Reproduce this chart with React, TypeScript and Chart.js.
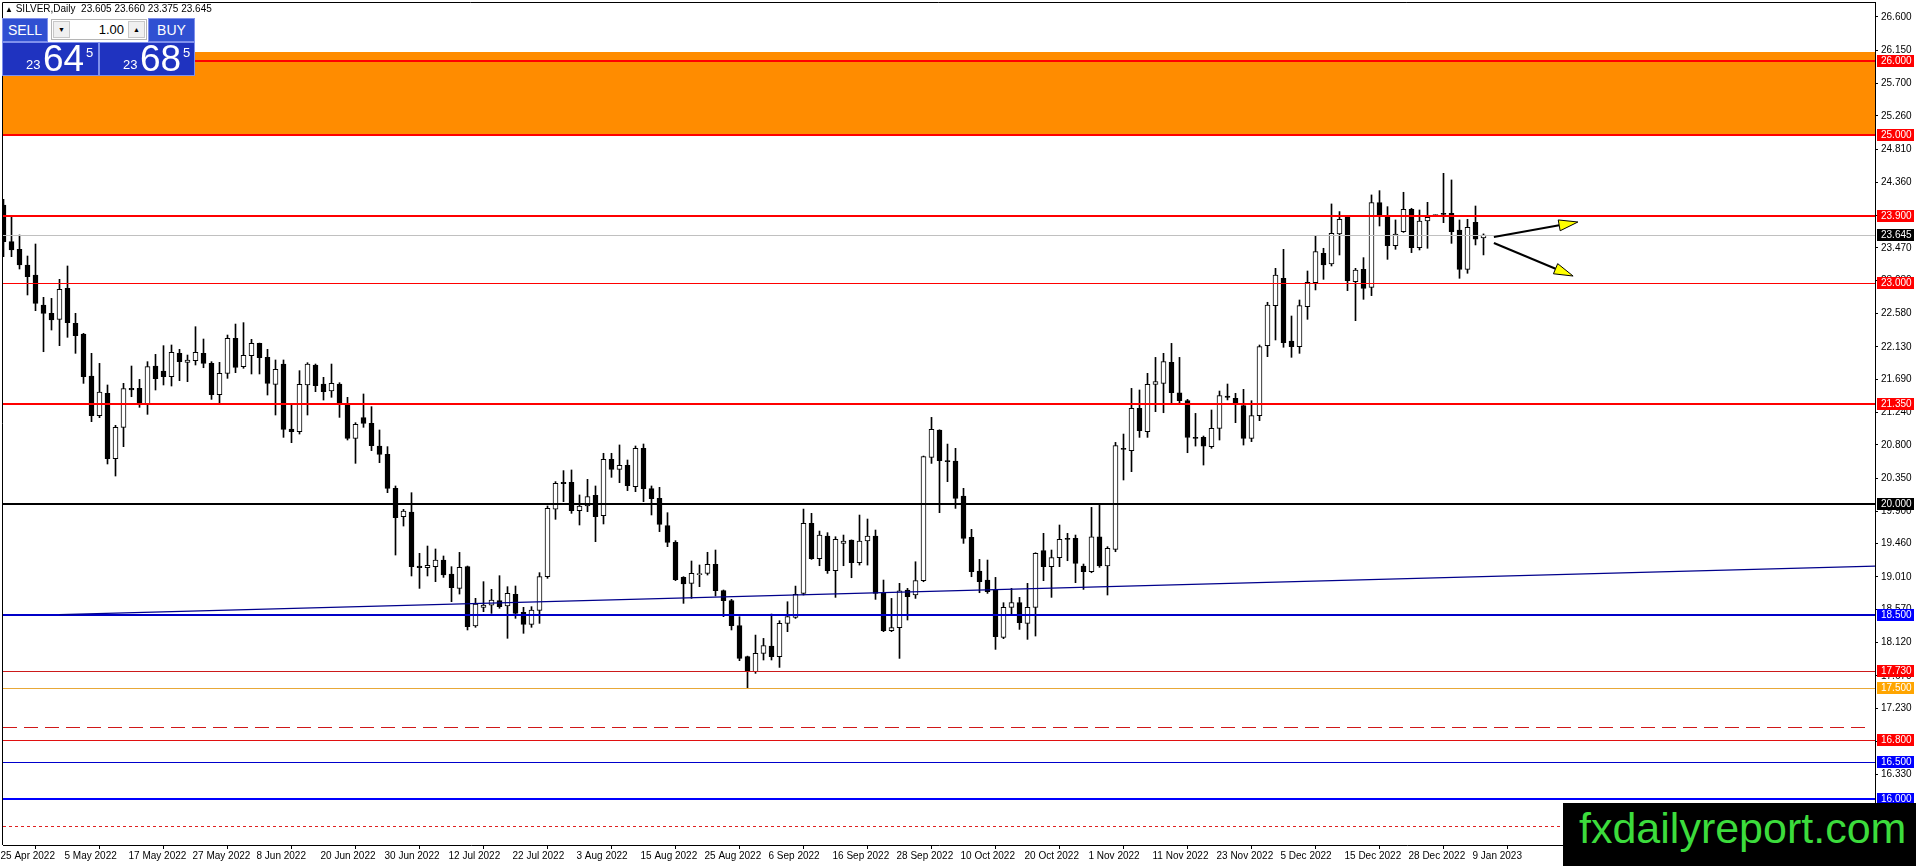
import React, { useEffect, useRef } from "react";
import { Chart, registerables } from "chart.js";

Chart.register(...registerables);

// ---------------- DATA ----------------
const dateLabels = [
  "25 Apr 2022", "5 May 2022", "17 May 2022", "27 May 2022", "8 Jun 2022", "20 Jun 2022",
  "30 Jun 2022", "12 Jul 2022", "22 Jul 2022", "3 Aug 2022", "15 Aug 2022", "25 Aug 2022",
  "6 Sep 2022", "16 Sep 2022", "28 Sep 2022", "10 Oct 2022", "20 Oct 2022", "1 Nov 2022",
  "11 Nov 2022", "23 Nov 2022", "5 Dec 2022", "15 Dec 2022", "28 Dec 2022", "9 Jan 2023",
];
const barsPerDateLabel = 8;

const opens = [
  24.052, 23.555, 23.451, 23.238, 23.103, 22.696, 22.583, 22.502, 22.922, 22.448,
  22.303, 21.734, 21.196, 21.499, 20.613, 21.038, 21.566, 21.566, 21.354, 21.869,
  21.801, 21.725, 22.041, 21.919, 21.941, 22.041, 21.905, 21.480, 21.770, 22.244,
  21.860, 22.009, 22.177, 21.987, 21.621, 21.896, 21.015, 20.979, 21.612, 21.883,
  21.625, 21.530, 21.625, 21.354, 20.889, 21.169, 21.092, 20.785, 20.672, 20.211,
  19.827, 19.890, 19.158, 19.135, 19.149, 19.239, 19.050, 18.855, 19.149, 18.345,
  18.598, 18.629, 18.688, 18.616, 18.774, 18.530, 18.368, 18.557, 19.014, 19.927,
  20.293, 20.293, 19.909, 19.972, 20.116, 19.841, 20.604, 20.469, 20.523, 20.234,
  20.753, 20.207, 20.076, 19.705, 19.479, 19.005, 18.923, 19.041, 19.059, 19.181,
  18.824, 18.688, 18.349, 17.929, 17.725, 17.974, 18.073, 17.929, 18.380, 18.462,
  18.787, 19.736, 19.257, 19.564, 19.094, 19.465, 19.510, 19.203, 19.497, 19.564,
  18.787, 18.281, 18.322, 18.832, 18.765, 18.959, 20.631, 21.001, 20.581, 20.581,
  20.107, 19.546, 19.090, 18.968, 18.832, 18.191, 18.597, 18.661, 18.380, 18.597,
  19.366, 19.149, 19.271, 19.533, 19.533, 19.158, 19.081, 19.555, 19.158, 19.384,
  20.753, 20.721, 21.295, 20.979, 21.620, 21.634, 21.919, 21.507, 21.399, 20.902,
  20.902, 20.775, 21.024, 21.463, 21.431, 21.332, 20.889, 21.196, 22.145, 22.687,
  23.058, 22.208, 22.131, 22.674, 23.000, 23.397, 23.252, 23.659, 23.885, 23.013,
  23.180, 22.936, 24.084, 23.907, 23.501, 23.690, 23.993, 23.474, 23.835, 23.907,
  23.939, 23.939, 23.713, 23.180, 23.817, 23.605,
];
const highs = [
  24.128, 23.885, 23.645, 23.360, 23.523, 22.800, 22.786, 23.044, 23.225, 22.583,
  22.312, 22.041, 21.905, 21.612, 21.065, 21.634, 21.869, 21.688, 21.928, 22.027,
  22.145, 22.154, 22.095, 22.018, 22.402, 22.235, 21.928, 21.919, 22.289, 22.438,
  22.457, 22.231, 22.180, 22.095, 21.951, 21.951, 21.341, 21.806, 21.914, 21.896,
  21.716, 21.896, 21.643, 21.445, 21.101, 21.490, 21.318, 21.002, 20.776, 20.243,
  19.926, 20.152, 19.330, 19.429, 19.389, 19.294, 19.149, 19.343, 19.158, 18.720,
  18.946, 18.842, 19.027, 18.878, 18.887, 18.598, 18.607, 19.068, 19.972, 20.302,
  20.451, 20.460, 20.121, 20.333, 20.243, 20.686, 20.686, 20.799, 20.595, 20.785,
  20.812, 20.243, 20.225, 19.881, 19.502, 19.014, 19.226, 19.172, 19.344, 19.375,
  18.833, 18.706, 18.471, 17.937, 18.222, 18.177, 18.507, 18.417, 18.674, 18.886,
  19.930, 19.872, 19.632, 19.610, 19.555, 19.578, 19.512, 19.849, 19.795, 19.646,
  18.968, 18.719, 18.923, 18.855, 19.216, 20.649, 21.173, 21.005, 20.811, 20.753,
  20.211, 19.655, 19.248, 19.239, 19.004, 18.661, 18.855, 18.733, 18.923, 19.338,
  19.601, 19.375, 19.714, 19.601, 19.578, 19.185, 19.953, 20.007, 19.420, 20.834,
  20.947, 21.566, 21.544, 21.770, 21.986, 22.041, 22.176, 21.986, 21.417, 21.227,
  20.920, 21.273, 21.530, 21.625, 21.499, 21.553, 21.399, 22.154, 22.733, 23.193,
  23.451, 22.547, 22.764, 23.157, 23.632, 23.465, 24.066, 23.962, 23.903, 23.193,
  23.338, 24.188, 24.246, 24.029, 23.849, 24.224, 24.007, 23.984, 24.088, 23.921,
  24.481, 24.391, 23.849, 23.858, 24.038, 23.660,
];
const lows = [
  23.351, 23.351, 23.184, 22.832, 22.619, 22.063, 22.357, 22.145, 22.258, 22.041,
  21.634, 21.115, 21.169, 20.541, 20.378, 20.776, 21.453, 21.309, 21.214, 21.544,
  21.612, 21.598, 21.670, 21.657, 21.883, 21.846, 21.417, 21.372, 21.702, 21.779,
  21.838, 21.761, 21.761, 21.476, 21.205, 20.902, 20.830, 20.947, 21.205, 21.521,
  21.408, 21.445, 21.173, 20.866, 20.550, 21.038, 20.722, 20.559, 20.152, 19.307,
  19.700, 19.023, 18.855, 19.023, 18.946, 19.004, 18.675, 18.778, 18.291, 18.327,
  18.539, 18.516, 18.585, 18.178, 18.449, 18.246, 18.327, 18.381, 18.991, 19.791,
  20.030, 19.872, 19.714, 19.895, 19.488, 19.728, 20.360, 20.288, 20.180, 20.166,
  20.030, 19.850, 19.624, 19.420, 18.960, 18.652, 18.720, 18.878, 19.036, 18.752,
  18.471, 18.291, 17.875, 17.499, 17.703, 17.884, 17.884, 17.784, 18.268, 18.448,
  18.765, 19.248, 19.162, 19.058, 18.733, 19.162, 18.999, 19.171, 19.171, 18.706,
  18.268, 18.268, 17.906, 18.426, 18.719, 18.945, 20.549, 19.881, 20.301, 19.939,
  19.465, 19.013, 18.796, 18.787, 18.028, 18.173, 18.493, 18.299, 18.164, 18.209,
  18.959, 18.733, 19.149, 19.230, 18.932, 18.841, 19.067, 19.140, 18.765, 19.352,
  20.324, 20.437, 20.902, 20.902, 21.250, 21.236, 21.354, 21.363, 20.694, 20.784,
  20.527, 20.753, 20.866, 21.409, 21.101, 20.798, 20.844, 21.128, 21.996, 22.222,
  22.123, 21.987, 22.041, 22.502, 22.900, 23.044, 23.225, 23.374, 22.891, 22.484,
  22.773, 22.823, 23.767, 23.315, 23.451, 23.680, 23.406, 23.442, 23.465, 23.903,
  23.812, 23.532, 23.058, 23.126, 23.510, 23.375,
];
const closes = [
  23.555, 23.442, 23.238, 23.080, 22.719, 22.583, 22.493, 22.908, 22.457, 22.280,
  21.725, 21.196, 21.517, 20.613, 21.038, 21.562, 21.544, 21.354, 21.860, 21.697,
  21.725, 22.054, 21.928, 21.950, 22.054, 21.905, 21.480, 21.770, 22.244, 21.851,
  22.014, 22.177, 21.982, 21.634, 21.824, 21.011, 20.979, 21.621, 21.896, 21.603,
  21.521, 21.634, 21.354, 20.889, 21.078, 21.092, 20.789, 20.672, 20.211, 19.813,
  19.904, 19.149, 19.135, 19.167, 19.239, 19.036, 18.864, 19.140, 18.336, 18.643,
  18.629, 18.697, 18.607, 18.788, 18.517, 18.368, 18.562, 19.014, 19.940, 20.279,
  20.275, 19.909, 19.972, 20.098, 19.827, 20.604, 20.469, 20.523, 20.247, 20.753,
  20.207, 20.071, 19.723, 19.479, 18.973, 18.914, 19.059, 19.050, 19.181, 18.824,
  18.688, 18.350, 17.906, 17.739, 17.974, 18.078, 17.929, 18.380, 18.471, 18.774,
  19.736, 19.257, 19.578, 19.094, 19.519, 19.497, 19.203, 19.497, 19.564, 18.787,
  18.281, 18.322, 18.823, 18.742, 18.959, 20.640, 21.010, 20.586, 20.572, 20.075,
  19.533, 19.081, 18.945, 18.810, 18.200, 18.597, 18.661, 18.389, 18.597, 19.329,
  19.149, 19.271, 19.519, 19.519, 19.194, 19.081, 19.555, 19.158, 19.397, 20.789,
  20.739, 21.295, 20.992, 21.620, 21.657, 21.928, 21.507, 21.399, 20.902, 20.888,
  20.784, 21.024, 21.467, 21.445, 21.350, 20.889, 21.196, 22.131, 22.696, 23.103,
  22.186, 22.131, 22.687, 23.004, 23.419, 23.239, 23.668, 23.858, 23.026, 23.171,
  22.922, 24.084, 23.903, 23.501, 23.659, 23.993, 23.474, 23.835, 23.885, 23.912,
  23.925, 23.690, 23.180, 23.749, 23.587, 23.645,
];

const priceTicks = [
  26.6, 26.15, 25.7, 25.26, 24.81, 24.36, 23.91, 23.47, 23.03, 22.58, 22.13, 21.69, 21.24,
  20.8, 20.35, 19.9, 19.46, 19.01, 18.57, 18.12, 17.67, 17.23, 16.78, 16.33, 15.89,
];
const levelPrices = [26.0, 25.0, 23.9, 23.0, 21.35, 20.0, 18.5, 17.73, 17.5, 16.8, 16.5, 16.0];
const zoneRange = [25.0, 26.125];
const bidPrice = 23.645;
const dashedLevel = 16.98;
const dottedLevel = 15.64;
const trendPoints = [
  [7, 18.5],
  [234, 19.158],
];
const arrowStarts = [
  [186.3, 23.618],
  [186.3, 23.536],
];
const arrowEnds = [
  [196.8, 23.821],
  [196.2, 23.089],
];

const symbolTitle = "SILVER,Daily";
const ohlcText = "23.605 23.660 23.375 23.645";
const lotText = "1.00";
const sellParts = ["23", "64", "5"];
const buyParts = ["23", "68", "5"];

// ---------------- STYLES ----------------
const FONT = '"Liberation Sans", Arial, sans-serif';
const NARROW = '"Liberation Sans Narrow", "Liberation Sans", Arial, sans-serif';
const levelStyles = [
  { line: "#ff0000", w: 2, box: "#ff0000" },
  { line: "#ff0000", w: 2, box: "#ff0000" },
  { line: "#ff0000", w: 2, box: "#ff0000" },
  { line: "#ff0000", w: 1, box: "#ff0000" },
  { line: "#ff0000", w: 2, box: "#ff0000" },
  { line: "#000000", w: 2, box: "#000000" },
  { line: "#0000c8", w: 2, box: "#0000ff" },
  { line: "#cc1a1a", w: 1, box: "#ff0000" },
  { line: "#e8a838", w: 1, box: "#ffa500" },
  { line: "#e01010", w: 1, box: "#ff0000" },
  { line: "#0000cc", w: 1, box: "#0000ff" },
  { line: "#0000ff", w: 2, box: "#0000ff" },
];

function hline(ctx: any, a: any, py: number, color: string, width: number, dash: number[] = [], xEnd?: number) {
  const yy = width % 2 === 1 ? Math.round(py) + 0.5 : Math.round(py);
  ctx.save();
  ctx.strokeStyle = color;
  ctx.lineWidth = width;
  ctx.setLineDash(dash);
  ctx.beginPath();
  ctx.moveTo(a.left, yy);
  ctx.lineTo(xEnd ?? a.right, yy);
  ctx.stroke();
  ctx.restore();
}

const overlayPlugin = {
  id: "mtOverlay",
  beforeDatasetsDraw(chart: any) {
    const { ctx, chartArea: a, scales } = chart;
    const y = scales.y;
    ctx.save();
    const y1 = y.getPixelForValue(zoneRange[1]);
    const y0 = y.getPixelForValue(zoneRange[0]);
    ctx.fillStyle = "#ff8c00";
    ctx.fillRect(a.left, Math.round(y1), a.right - a.left, Math.round(y0) - Math.round(y1));
    ctx.restore();
  },
  afterDatasetsDraw(chart: any) {
    const { ctx, chartArea: a, scales } = chart;
    const x = scales.x;
    const y = scales.y;
    ctx.save();
    ctx.beginPath();
    ctx.rect(a.left, a.top, a.right - a.left, a.bottom - a.top);
    ctx.clip();

    hline(ctx, a, y.getPixelForValue(bidPrice), "#c0c0c0", 1);
    levelPrices.forEach((p, i) => {
      const s = levelStyles[i];
      hline(ctx, a, y.getPixelForValue(p), s.line, s.w);
    });
    hline(ctx, a, y.getPixelForValue(dashedLevel), "#d01818", 1, [14, 7], a.right - 6);
    hline(ctx, a, y.getPixelForValue(dottedLevel), "#e02020", 1, [3, 3]);

    ctx.strokeStyle = "#00008c";
    ctx.lineWidth = 1.2;
    ctx.beginPath();
    ctx.moveTo(x.getPixelForValue(trendPoints[0][0]), y.getPixelForValue(trendPoints[0][1]));
    ctx.lineTo(x.getPixelForValue(trendPoints[1][0]), y.getPixelForValue(trendPoints[1][1]));
    ctx.stroke();

    arrowStarts.forEach((st, i) => {
      const en = arrowEnds[i];
      const sx = x.getPixelForValue(st[0]);
      const sy = y.getPixelForValue(st[1]);
      const ex = x.getPixelForValue(en[0]);
      const ey = y.getPixelForValue(en[1]);
      const ang = Math.atan2(ey - sy, ex - sx);
      const len = 19;
      const hw = 5.5;
      const bx = ex - Math.cos(ang) * len;
      const by = ey - Math.sin(ang) * len;
      ctx.strokeStyle = "#000";
      ctx.lineWidth = 2;
      ctx.beginPath();
      ctx.moveTo(sx, sy);
      ctx.lineTo(bx, by);
      ctx.stroke();
      ctx.beginPath();
      ctx.moveTo(ex, ey);
      ctx.lineTo(bx + Math.sin(ang) * hw, by - Math.cos(ang) * hw);
      ctx.lineTo(bx - Math.sin(ang) * hw, by + Math.cos(ang) * hw);
      ctx.closePath();
      ctx.fillStyle = "#ffff00";
      ctx.fill();
      ctx.lineWidth = 1;
      ctx.stroke();
    });
    ctx.restore();

    ctx.save();
    ctx.strokeStyle = "#000";
    ctx.lineWidth = 1;
    ctx.beginPath();
    ctx.moveTo(a.left - 0.5, a.bottom);
    ctx.lineTo(a.left - 0.5, a.top + 0.5);
    ctx.lineTo(a.right, a.top + 0.5);
    ctx.stroke();
    ctx.restore();
  },
  afterDraw(chart: any) {
    const { ctx, chartArea: a, scales } = chart;
    const y = scales.y;
    const boxes: { p: number; c: string }[] = [];
    levelPrices.forEach((p, i) => boxes.push({ p, c: levelStyles[i].box }));
    boxes.push({ p: bidPrice, c: "#000000" });
    ctx.save();
    ctx.font = `10px ${FONT}`;
    ctx.textBaseline = "middle";
    ctx.textAlign = "left";
    boxes.forEach((b) => {
      const py = Math.round(y.getPixelForValue(b.p));
      ctx.fillStyle = b.c;
      ctx.fillRect(a.right + 2, py - 6, 37, 12);
      ctx.fillStyle = "#ffffff";
      ctx.fillText(b.p.toFixed(3), a.right + 6, py + 0.5);
    });
    ctx.restore();
  },
};

const W = 1916;
const H = 866;

function noPad(s: any) {
  s.paddingTop = 0;
  s.paddingBottom = 0;
  s.paddingLeft = 0;
  s.paddingRight = 0;
}

export default function App() {
  const ref = useRef<HTMLCanvasElement | null>(null);

  useEffect(() => {
    document.body.style.margin = "0";
    const canvas = ref.current;
    if (!canvas) return;
    const idx = opens.map((_, i) => i);
    const wickData = idx.map((i) => ({ x: i, y: [lows[i], highs[i]] }));
    const bodyData = idx.map((i) => ({ x: i, y: [opens[i], closes[i]] }));
    const bodyColors = idx.map((i) => (closes[i] >= opens[i] ? "#ffffff" : "#000000"));

    const chart = new Chart(canvas, {
      type: "bar",
      data: {
        datasets: [
          {
            data: wickData as any,
            backgroundColor: "#000000",
            borderWidth: 0,
            barThickness: 1,
            grouped: false,
            order: 2,
          } as any,
          {
            data: bodyData as any,
            backgroundColor: bodyColors,
            borderColor: "#000000",
            borderWidth: 1,
            borderSkipped: false,
            barThickness: 5,
            minBarLength: 1,
            grouped: false,
            order: 1,
          } as any,
        ],
      },
      options: {
        animation: false,
        responsive: false,
        events: [],
        layout: { padding: { left: 3, top: 2, right: 0, bottom: 0 } },
        plugins: { legend: { display: false }, tooltip: { enabled: false } },
        scales: {
          x: {
            type: "linear",
            min: -0.0625,
            max: 233.9375,
            offset: false,
            afterBuildTicks: (s: any) => {
              s.ticks = dateLabels.map((_, k) => ({ value: k * barsPerDateLabel }));
            },
            afterFit: (s: any) => {
              s.height = 21;
              noPad(s);
            },
            ticks: {
              autoSkip: false,
              maxRotation: 0,
              minRotation: 0,
              align: "start",
              padding: 1,
              labelOffset: -3,
              color: "#000000",
              font: { family: FONT, size: 10 },
              callback: (_v: any, i: number) => dateLabels[i] ?? "",
            },
            grid: { drawOnChartArea: false, drawTicks: true, tickLength: 4, color: "#000000" },
            border: { display: true, color: "#000000", width: 1 },
          },
          y: {
            type: "linear",
            position: "right",
            min: 15.3764,
            max: 26.8033,
            afterBuildTicks: (s: any) => {
              s.ticks = priceTicks.map((v) => ({ value: v }));
            },
            afterFit: (s: any) => {
              s.width = 41;
              noPad(s);
            },
            ticks: {
              autoSkip: false,
              padding: 3,
              color: "#000000",
              font: { family: FONT, size: 10 },
              callback: (v: any) => Number(v).toFixed(3),
            },
            grid: { drawOnChartArea: false, drawTicks: true, tickLength: 3, color: "#000000" },
            border: { display: true, color: "#000000", width: 1 },
          },
        },
      } as any,
      plugins: [overlayPlugin],
    });
    return () => chart.destroy();
  }, []);

  const blueTop = "#3050d2";
  const blueBig = "#1f33c0";

  const bigBox = (left: number, width: number, parts: string[]) => (
    <div
      style={{
        position: "absolute",
        left,
        top: 42,
        width,
        height: 34,
        background: blueBig,
        boxSizing: "border-box",
        border: "1px solid #7f90ec",
        color: "#fff",
        fontFamily: FONT,
      }}
    >
      <span style={{ position: "absolute", left: 23, top: 15, fontSize: 13, lineHeight: "13px" }}>{parts[0]}</span>
      <span style={{ position: "absolute", left: 40, top: -3, fontSize: 37, lineHeight: "37px" }}>{parts[1]}</span>
      <span style={{ position: "absolute", left: 83, top: 3, fontSize: 13, lineHeight: "13px" }}>{parts[2]}</span>
    </div>
  );

  const btnStyle = {
    position: "absolute" as const,
    top: 18,
    height: 24,
    background: blueTop,
    boxSizing: "border-box" as const,
    border: "1px solid #7f90ec",
    color: "#fff",
    fontFamily: NARROW,
    fontSize: 14,
    lineHeight: "22px",
    textAlign: "center" as const,
  };
  const smallBtn = {
    position: "absolute" as const,
    top: 1,
    width: 17,
    height: 17,
    background: "#f0f0f0",
    border: "1px solid #c8c8c8",
    boxSizing: "border-box" as const,
    fontSize: 7,
    lineHeight: "15px",
    textAlign: "center" as const,
    color: "#000",
  };

  return (
    <div style={{ position: "relative", width: W, height: H, overflow: "hidden", background: "#fff" }}>
      <canvas ref={ref} width={W} height={H} style={{ width: W, height: H, display: "block" }} />
      <div
        style={{
          position: "absolute",
          left: 5,
          top: 3,
          fontFamily: FONT,
          fontSize: 10,
          lineHeight: "12px",
          color: "#000",
          whiteSpace: "pre",
        }}
      >
        <span style={{ fontSize: 8 }}>▲</span>
        {" " + symbolTitle + "  " + ohlcText}
      </div>
      <div style={{ ...btnStyle, left: 2, width: 46 }}>SELL</div>
      <div style={{ ...btnStyle, left: 148, width: 47 }}>BUY</div>
      <div
        style={{
          position: "absolute",
          left: 51,
          top: 19,
          width: 96,
          height: 21,
          background: "#fff",
          boxSizing: "border-box",
          border: "1px solid #b5b5b5",
          fontFamily: FONT,
        }}
      >
        <div style={{ ...smallBtn, left: 1 }}>▼</div>
        <div style={{ ...smallBtn, right: 1 }}>▲</div>
        <div style={{ position: "absolute", right: 22, top: 2, fontSize: 13, lineHeight: "15px", color: "#000" }}>
          {lotText}
        </div>
      </div>
      {bigBox(2, 97, sellParts)}
      {bigBox(99, 96, buyParts)}
      <div style={{ position: "absolute", left: 1563, top: 803, width: W - 1563, height: H - 803, background: "#000" }}>
        <span
          style={{
            position: "absolute",
            left: 16,
            top: 4,
            fontFamily: FONT,
            fontSize: 43,
            lineHeight: "43px",
            color: "#3cdc3c",
            whiteSpace: "nowrap",
          }}
        >
          fxdailyreport.com
        </span>
      </div>
    </div>
  );
}
